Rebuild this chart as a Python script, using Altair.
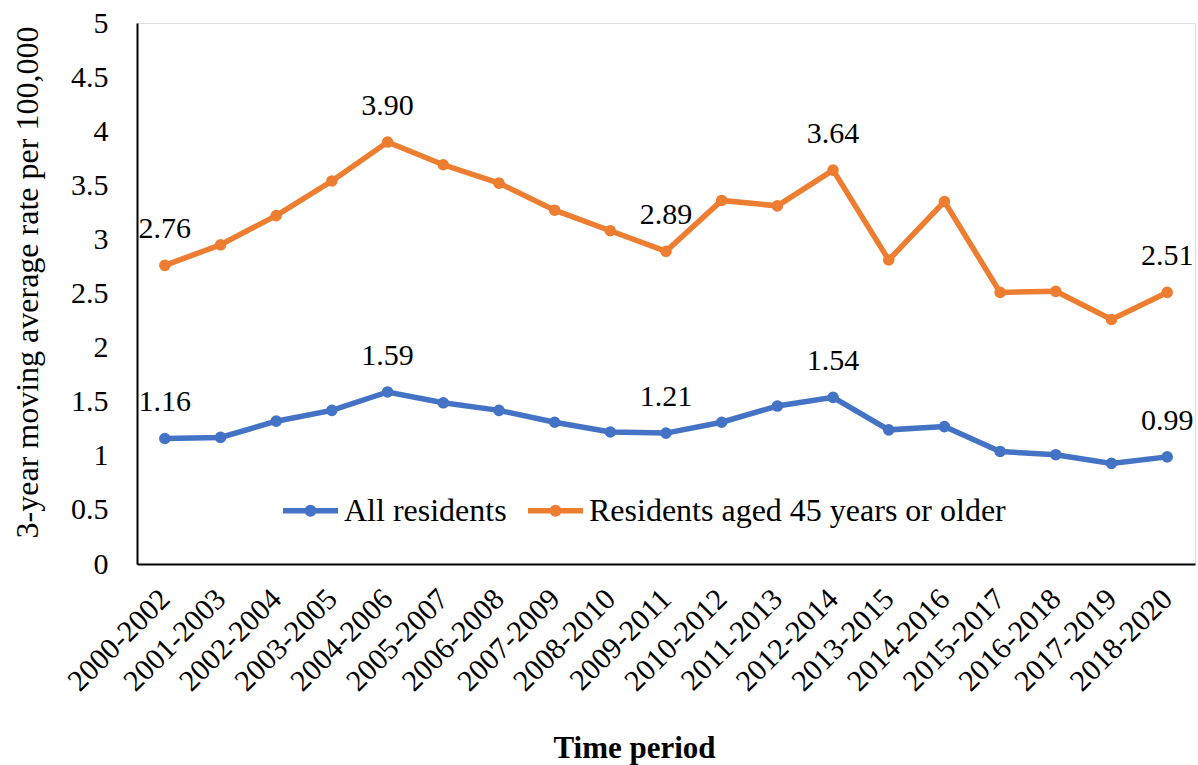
import altair as alt
import pandas as pd

periods = ["2000-2002", "2001-2003", "2002-2004", "2003-2005", "2004-2006", "2005-2007",
           "2006-2008", "2007-2009", "2008-2010", "2009-2011", "2010-2012", "2011-2013",
           "2012-2014", "2013-2015", "2014-2016", "2015-2017", "2016-2018", "2017-2019",
           "2018-2020"]
all_residents = [1.16, 1.17, 1.32, 1.42, 1.59, 1.49, 1.42, 1.31, 1.22, 1.21, 1.31, 1.46,
                 1.54, 1.24, 1.27, 1.04, 1.01, 0.93, 0.99]
aged_45_plus = [2.76, 2.95, 3.22, 3.54, 3.90, 3.69, 3.52, 3.27, 3.08, 2.89, 3.36, 3.31,
                3.64, 2.81, 3.35, 2.51, 2.52, 2.26, 2.51]
series_names = ["All residents", "Residents aged 45 years or older"]
series_colors = ["#4472C4", "#ED7D31"]
labeled_idx = [0, 4, 9, 12, 18]
y_ticks = [0, 0.5, 1, 1.5, 2, 2.5, 3, 3.5, 4, 4.5, 5]

rows = []
for name, vals in zip(series_names, [all_residents, aged_45_plus]):
    for i, (p, v) in enumerate(zip(periods, vals)):
        rows.append({"period": p, "series": name, "value": v,
                     "label": f"{v:.2f}" if i in labeled_idx else ""})
df = pd.DataFrame(rows)

FONT = "'Liberation Serif', 'Times New Roman', Times, serif"

x_enc = alt.X("period:N", sort=periods, scale=alt.Scale(type="point", padding=0.5),
              axis=alt.Axis(title="Time period", labelAngle=-45, labelAlign="right",
                            labelBaseline="middle", labelPadding=30, labelFontSize=30,
                            labelFont=FONT, labelColor="black", ticks=False,
                            domainColor="black", domainWidth=2,
                            titleFont=FONT, titleFontSize=31, titleFontWeight="bold",
                            titleColor="black", titleX=497, titleY=184,
                            titleAlign="center", titleBaseline="middle"))
y_enc = alt.Y("value:Q", scale=alt.Scale(domain=[0, 5], nice=False, zero=True),
              axis=alt.Axis(title="3-year moving average rate per 100,000", values=y_ticks,
                            format="~g", grid=False, ticks=False, labelPadding=29,
                            labelFontSize=30, labelFont=FONT, labelColor="black",
                            domainColor="black", domainWidth=2,
                            titleFont=FONT, titleFontSize=32, titleFontWeight="normal",
                            titleColor="black", titleX=-110, titleY=259,
                            titleAngle=270, titleAlign="center", titleBaseline="middle"))
color_scale = alt.Scale(domain=series_names, range=series_colors)

legend_path = ("M-1,0H1 M0.12,0 A0.12,0.12 0 1,1 -0.12,0 "
               "A0.12,0.12 0 1,1 0.12,0")

lines = alt.Chart(df).mark_line(strokeWidth=5.5).encode(
    x=x_enc, y=y_enc,
    color=alt.Color("series:N", scale=color_scale,
                    legend=alt.Legend(title=None, orient="none", direction="horizontal",
                                      legendX=143, legendY=457,
                                      symbolType=legend_path, symbolSize=3025,
                                      symbolStrokeWidth=5.5, labelOffset=3,
                                      columnPadding=10, labelFont=FONT,
                                      labelFontSize=32, labelColor="black",
                                      labelLimit=1000)),
)
points = alt.Chart(df).mark_point(filled=True, size=135, opacity=1).encode(
    x=alt.X("period:N", sort=periods), y="value:Q",
    color=alt.Color("series:N", scale=color_scale, legend=None),
)
labels = alt.Chart(df).transform_filter(alt.datum.label != "").mark_text(
    font=FONT, fontSize=30, color="black", dy=-36, baseline="middle", align="center"
).encode(x=alt.X("period:N", sort=periods), y="value:Q", text="label:N")

chart = alt.layer(lines, points, labels).properties(
    width=1058, height=541,
    autosize=alt.AutoSizeParams(type="none"),
    padding={"left": 137, "top": 23, "right": 3, "bottom": 201},
).configure_view(stroke=None).configure(background="white", font=FONT)

chart.save("out.html", embed_options={"renderer": "svg", "actions": False})
